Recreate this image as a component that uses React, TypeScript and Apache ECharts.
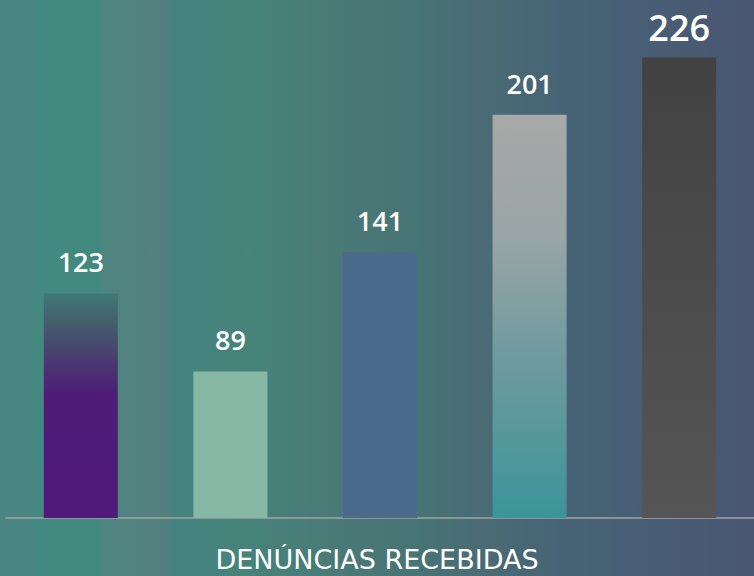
import React, { useEffect, useRef } from "react";
import * as echarts from "echarts";

const categories = ["A", "B", "C", "D", "E"];
const values = [123, 89, 141, 201, 226];
const chartTitle = "DENÚNCIAS RECEBIDAS";

const barColors = [
  new echarts.graphic.LinearGradient(0, 0, 0, 1, [
    { offset: 0, color: "#3e7a74" },
    { offset: 0.12, color: "#44606c" },
    { offset: 0.3, color: "#4a3a70" },
    { offset: 0.45, color: "#4f1d78" },
    { offset: 1, color: "#501a7a" },
  ]),
  "#86b8a5",
  "#4a6b8b",
  new echarts.graphic.LinearGradient(0, 0, 0, 1, [
    { offset: 0, color: "#a8a8a8" },
    { offset: 0.3, color: "#9aa5a6" },
    { offset: 0.6, color: "#6f9a9e" },
    { offset: 1, color: "#3c9599" },
  ]),
  new echarts.graphic.LinearGradient(0, 0, 0, 1, [
    { offset: 0, color: "#424242" },
    { offset: 1, color: "#555555" },
  ]),
];

export default function App() {
  const ref = useRef<HTMLDivElement>(null);
  useEffect(() => {
    document.body.style.margin = "0";
    if (!ref.current) return;
    const chart = echarts.init(ref.current, null, { renderer: "svg" });
    const bg = new echarts.graphic.LinearGradient(0, 0, 1, 0, [
      { offset: 0, color: "#4a8582" },
      { offset: 0.04, color: "#4a8582" },
      { offset: 0.05, color: "#428a80" },
      { offset: 0.13, color: "#428a80" },
      { offset: 0.14, color: "#4f8481" },
      { offset: 0.22, color: "#53807e" },
      { offset: 0.23, color: "#458380" },
      { offset: 0.32, color: "#45837a" },
      { offset: 0.43, color: "#4a7b77" },
      { offset: 0.55, color: "#477474" },
      { offset: 0.65, color: "#4a6a75" },
      { offset: 0.75, color: "#466476" },
      { offset: 0.85, color: "#485e74" },
      { offset: 1, color: "#4a5672" },
    ]);
    chart.setOption({
      animation: false,
      backgroundColor: bg,
      title: {
        text: chartTitle,
        left: "center",
        top: 540,
        textStyle: {
          color: "#ffffff",
          fontSize: 27,
          lineHeight: 28,
          fontWeight: "normal",
          fontFamily: "'DejaVu Sans', sans-serif",
        },
      },
      grid: { left: 6, right: 0, top: 14, bottom: 58 },
      xAxis: {
        type: "category",
        data: categories,
        axisLine: { lineStyle: { color: "#a3a3a3", width: 1.5 } },
        axisTick: { show: false },
        axisLabel: { show: false },
      },
      yAxis: {
        type: "value",
        min: 25,
        max: 245,
        show: false,
        splitLine: { show: false },
      },
      series: [
        {
          type: "bar",
          barWidth: 74,
          data: values.map((v, i) => ({
            value: v,
            itemStyle: { color: barColors[i] },
            label: i === 4 ? { fontSize: 36, distance: 12 } : undefined,
          })),
          label: {
            show: true,
            position: "top",
            distance: 18,
            color: "#ffffff",
            fontSize: 27,
            fontWeight: 600,
            fontFamily: "'Open Sans', sans-serif",
          },
        },
      ],
    });
    return () => chart.dispose();
  }, []);
  return <div ref={ref} style={{ width: 754, height: 576 }} />;
}
